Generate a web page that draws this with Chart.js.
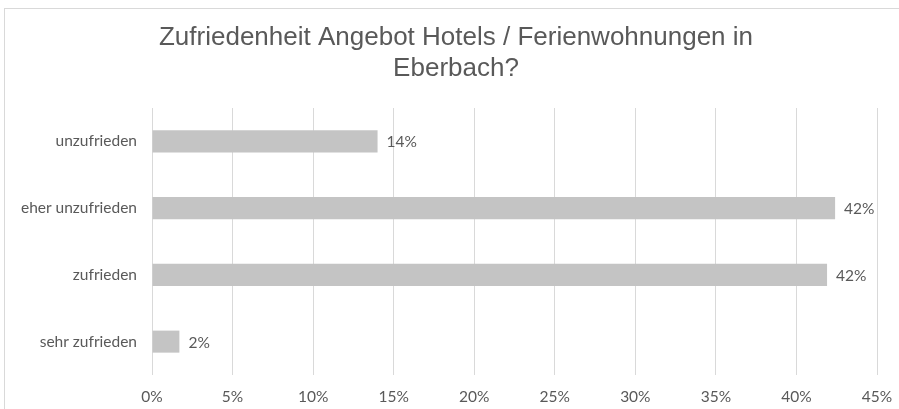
<!DOCTYPE html>
<html>
<head>
<meta charset="utf-8">
<script src="https://cdn.jsdelivr.net/npm/chart.js@4/dist/chart.umd.min.js"></script>
<style>
    html, body { margin: 0; padding: 0; background: #fff; overflow: hidden; }
    #frame {
        position: absolute; left: 4px; top: 8px; width: 904px; height: 440px;
        border: 1px solid #d9d9d9; box-sizing: border-box;
    }
    #wrap { position: absolute; left: 4px; top: 0; width: 904px; height: 409px; }
</style>
</head>
<body>
<div id="frame"></div>
<div id="wrap"><canvas id="bar-chart"></canvas></div>
<script>
const TITLE_LINES = ["Zufriedenheit Angebot Hotels / Ferienwohnungen in", "Eberbach?"];
const CATEGORIES = ["unzufrieden", "eher unzufrieden", "zufrieden", "sehr zufrieden"];
const SHARES = [14.0, 42.4, 41.9, 1.7];
const X_MIN = 0;
const X_MAX = 45;
const X_STEP = 5;

const TEXT_GREY = "#595959";
const LABEL_FONT = { family: "Lato, 'Open Sans', sans-serif", size: 15.5 };
const TITLE_FONT = "26px 'Liberation Sans', Arial, sans-serif";

// title centred over the whole frame, not just the plot
const frameTitle = {
    id: "frameTitle",
    afterDraw(chart) {
        const ctx = chart.ctx;
        ctx.save();
        ctx.fillStyle = TEXT_GREY;
        ctx.font = TITLE_FONT;
        ctx.textAlign = "center";
        ctx.textBaseline = "middle";
        TITLE_LINES.forEach((line, i) => {
            ctx.fillText(line, chart.width / 2, 38 + i * 31);
        });
        ctx.restore();
    },
};

// value labels at the end of each bar
const barLabels = {
    id: "barLabels",
    afterDatasetsDraw(chart) {
        const ctx = chart.ctx;
        const meta = chart.getDatasetMeta(0);
        ctx.save();
        ctx.fillStyle = TEXT_GREY;
        ctx.font = `${LABEL_FONT.size}px ${LABEL_FONT.family}`;
        ctx.textAlign = "left";
        ctx.textBaseline = "middle";
        meta.data.forEach((bar, i) => {
            const value = chart.data.datasets[0].data[i];
            ctx.fillText(Math.round(value) + "%", bar.x + 9, bar.y + 1);
        });
        ctx.restore();
    },
};

new Chart(document.getElementById("bar-chart"), {
    type: "bar",
    data: {
        labels: CATEGORIES,
        datasets: [{
            data: SHARES,
            backgroundColor: "#c4c4c4",
            borderWidth: 0,
            barPercentage: 1,
            categoryPercentage: 0.33,
        }],
    },
    options: {
        indexAxis: "y",
        responsive: true,
        maintainAspectRatio: false,
        animation: false,
        layout: { padding: { left: 0, right: 31, top: 108, bottom: 5 } },
        plugins: {
            legend: { display: false },
            tooltip: { enabled: false },
            title: { display: false },
        },
        scales: {
            x: {
                min: X_MIN,
                max: X_MAX,
                grid: { color: "#d9d9d9", drawTicks: false },
                border: { display: false },
                ticks: {
                    stepSize: X_STEP,
                    color: TEXT_GREY,
                    font: LABEL_FONT,
                    padding: 13,
                    callback: (v) => v + "%",
                },
                afterFit(scale) { scale.height = 29; },
            },
            y: {
                grid: { display: false, drawTicks: false },
                border: { display: false },
                ticks: { color: TEXT_GREY, font: LABEL_FONT, padding: 15 },
                afterFit(scale) { scale.width = 148; },
            },
        },
    },
    plugins: [barLabels, frameTitle],
});
</script>
</body>
</html>
